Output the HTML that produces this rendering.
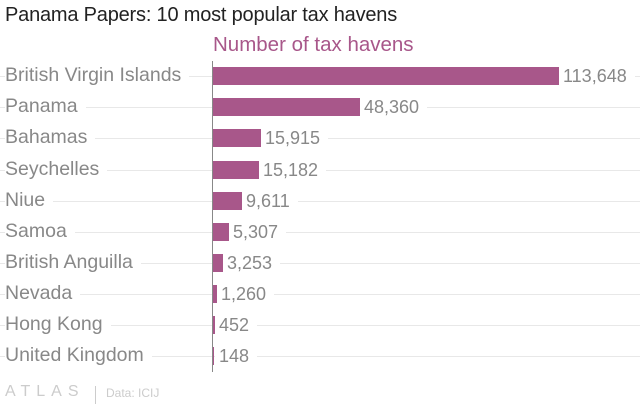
<!DOCTYPE html>
<html><head><meta charset="utf-8"><style>
body{margin:0;width:640px;height:405px;background:#fff;font-family:"Liberation Sans",sans-serif;position:relative;overflow:hidden}
.t{position:absolute;left:5px;top:4px;font-size:20px;color:#222;letter-spacing:-0.2px}
.sub{position:absolute;left:213px;top:33px;font-size:20.5px;color:#a8578a}
.row{position:absolute;left:0;width:640px;height:24px}
.line{position:absolute;left:0;right:0;top:12px;height:1px;background:#e8e8e8}
.lab{position:absolute;left:5px;top:0px;font-size:19.5px;line-height:23px;color:#888;background:#fff;padding-right:8px}
.bar{position:absolute;left:213px;top:3px;height:18px;background:#a8578a}
.val{position:absolute;top:1px;font-size:18px;line-height:22px;color:#888;background:#fff;padding:0 8px 0 4px}
.axis{position:absolute;left:212px;top:61px;width:1px;height:311px;background:#888}
.foot{position:absolute;left:5px;top:383px;font-size:16px;color:#ccc;letter-spacing:6px}
.data{position:absolute;left:106px;top:386px;font-size:12px;color:#ccc}
.sep{position:absolute;left:95px;top:386px;width:1px;height:18px;background:#ccc}
</style></head><body>
<div class="t">Panama Papers: 10 most popular tax havens</div>
<div class="sub">Number of tax havens</div>
<div class="row" style="top:64px"><div class="line"></div><span class="lab">British Virgin Islands</span><div class="bar" style="width:346px"></div><span class="val" style="left:559px">113,648</span></div>
<div class="row" style="top:95px"><div class="line"></div><span class="lab">Panama</span><div class="bar" style="width:147px"></div><span class="val" style="left:360px">48,360</span></div>
<div class="row" style="top:126px"><div class="line"></div><span class="lab">Bahamas</span><div class="bar" style="width:48px"></div><span class="val" style="left:261px">15,915</span></div>
<div class="row" style="top:158px"><div class="line"></div><span class="lab">Seychelles</span><div class="bar" style="width:46px"></div><span class="val" style="left:259px">15,182</span></div>
<div class="row" style="top:189px"><div class="line"></div><span class="lab">Niue</span><div class="bar" style="width:29px"></div><span class="val" style="left:242px">9,611</span></div>
<div class="row" style="top:220px"><div class="line"></div><span class="lab">Samoa</span><div class="bar" style="width:16px"></div><span class="val" style="left:229px">5,307</span></div>
<div class="row" style="top:251px"><div class="line"></div><span class="lab">British Anguilla</span><div class="bar" style="width:10px"></div><span class="val" style="left:223px">3,253</span></div>
<div class="row" style="top:282px"><div class="line"></div><span class="lab">Nevada</span><div class="bar" style="width:4px"></div><span class="val" style="left:217px">1,260</span></div>
<div class="row" style="top:313px"><div class="line"></div><span class="lab">Hong Kong</span><div class="bar" style="width:1.5px"></div><span class="val" style="left:215px">452</span></div>
<div class="row" style="top:344px"><div class="line"></div><span class="lab">United Kingdom</span><div class="bar" style="width:0.5px"></div><span class="val" style="left:215px">148</span></div>
<div class="axis"></div>
<div class="foot">ATLAS</div><div class="sep"></div><div class="data">Data: ICIJ</div>
</body></html>
